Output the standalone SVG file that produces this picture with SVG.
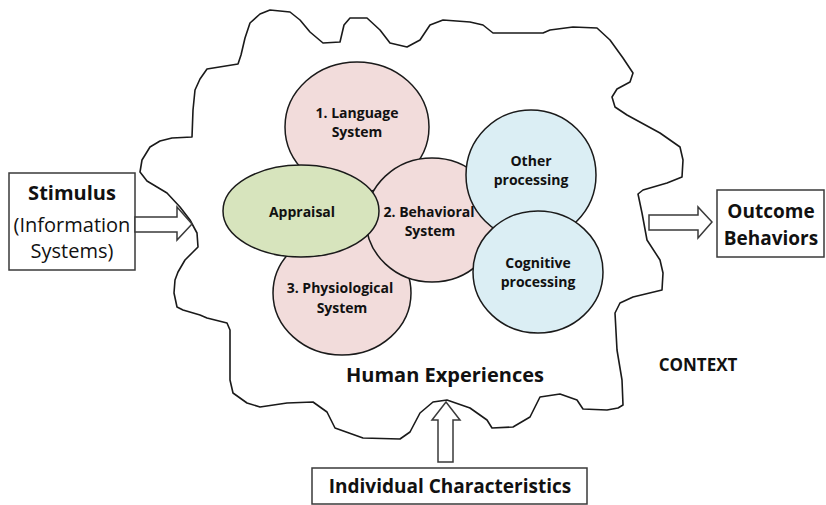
<svg xmlns="http://www.w3.org/2000/svg" width="826" height="505" viewBox="0 0 826 505">
  <style>
    .outline { fill: none; stroke: #1a1a1a; stroke-width: 1.6; stroke-linejoin: round; }
    .pink { fill: #f2dcdb; stroke: #1a1a1a; stroke-width: 1.5; }
    .blue { fill: #dbeef4; stroke: #1a1a1a; stroke-width: 1.5; }
    .green { fill: #d7e4bd; stroke: #1a1a1a; stroke-width: 1.5; }
    .box { fill: #ffffff; stroke: #3a3a3a; stroke-width: 1.5; }
    .arrow { fill: #ffffff; stroke: #3a3a3a; stroke-width: 1.5; stroke-linejoin: miter; }
    text { font-family: "Open Sans", "Liberation Sans", sans-serif; fill: #111; text-anchor: middle; }
    .b { font-weight: bold; }
    .small { font-size: 14px; }
    .big { font-size: 20px; }
    .mid { font-size: 19px; }
  </style>

  <rect width="826" height="505" fill="#ffffff"/>

  <!-- irregular boundary around the experience systems -->
  <g id="human-experiences">
    <path class="outline" d="M 142 160 L 150 147 L 160 141 L 172 138 L 192 137 L 193 110 L 195 90 L 200 79 L 207 69 L 238 64 L 241 55 L 245 38 L 250 23 L 260 14 L 270 10 L 290 12 L 300 20 L 310 32 L 323 43 L 340 42 L 344 25 L 350 18 L 367 18 L 380 30 L 390 43 L 407 47 L 420 40 L 430 25 L 443 20 L 470 22 L 483 25 L 493 33 L 543 33 L 550 30 L 573 27 L 597 28 L 610 40 L 623 58 L 633 73 L 630 82 L 617 89 L 612 97 L 615 107 L 627 115 L 660 133 L 680 147 L 683 160 L 682 177 L 667 183 L 643 190 L 638 194 L 642 213 L 647 240 L 660 260 L 663 273 L 662 290 L 633 297 L 620 303 L 615 313 L 617 350 L 622 380 L 623 405 L 618 408 L 607 410 L 583 409 L 577 400 L 560 394 L 540 397 L 530 417 L 513 427 L 492 428 L 487 420 L 470 408 L 447 400 L 433 402 L 420 413 L 410 432 L 400 439 L 363 438 L 335 428 L 327 412 L 313 402 L 287 403 L 260 407 L 247 403 L 233 393 L 230 380 L 230 330 L 227 323 L 207 318 L 200 315 L 183 310 L 177 307 L 174 293 L 175 280 L 178 272 L 185 260 L 193 252 L 198 247 L 197 233 L 190 220 L 180 207 L 167 193 L 157 187 L 147 181 L 140 172 Z"/>
    <text class="b big" x="445" y="382">Human Experiences</text>
  </g>

  <g id="language-system">
    <ellipse class="pink" cx="357" cy="127" rx="72" ry="65"/>
    <text class="b small" x="357" y="118">1. Language</text>
    <text class="b small" x="357" y="137">System</text>
  </g>

  <g id="physiological-system">
    <ellipse class="pink" cx="342" cy="293" rx="69" ry="62"/>
    <text class="b small" x="340" y="293">3. Physiological</text>
    <text class="b small" x="342" y="313">System</text>
  </g>

  <g id="behavioral-system">
    <ellipse class="pink" cx="432" cy="220" rx="66" ry="62"/>
    <text class="b small" x="429" y="217">2. Behavioral</text>
    <text class="b small" x="430" y="236">System</text>
  </g>

  <g id="other-processing">
    <ellipse class="blue" cx="531" cy="175" rx="65" ry="65"/>
    <text class="b small" x="531" y="166">Other</text>
    <text class="b small" x="531" y="185">processing</text>
  </g>

  <g id="cognitive-processing">
    <ellipse class="blue" cx="538" cy="272" rx="65" ry="61"/>
    <text class="b small" x="538" y="268">Cognitive</text>
    <text class="b small" x="538" y="287">processing</text>
  </g>

  <g id="appraisal">
    <ellipse class="green" cx="301" cy="211" rx="78" ry="46"/>
    <text class="b small" x="302" y="217">Appraisal</text>
  </g>

  <g id="stimulus">
    <rect class="box" x="9" y="173" width="126" height="97"/>
    <text class="b big" x="72" y="200">Stimulus</text>
    <text class="big" x="72" y="232">(Information</text>
    <text class="big" x="72" y="258">Systems)</text>
  </g>

  <g id="outcome-behaviors">
    <rect class="box" x="717" y="190" width="107" height="67"/>
    <text class="b mid" x="771" y="218">Outcome</text>
    <text class="b mid" x="771" y="245">Behaviors</text>
  </g>

  <g id="individual-characteristics">
    <rect class="box" x="312" y="468" width="275" height="36"/>
    <text class="b mid" x="450" y="493">Individual Characteristics</text>
  </g>

  <g id="context">
    <text class="b" x="698" y="371" font-size="17">CONTEXT</text>
  </g>

  <!-- block arrows -->
  <g id="connectors">
    <path class="arrow" d="M 135 217 L 177 217 L 177 207 L 192 224 L 177 240 L 177 232 L 135 232 Z"/>
    <path class="arrow" d="M 649 215 L 698 215 L 698 207 L 712 222 L 698 238 L 698 230 L 649 230 Z"/>
    <path class="arrow" d="M 438 462 L 438 420 L 432 420 L 446 402 L 460 420 L 453 420 L 453 462 Z"/>
  </g>
</svg>
